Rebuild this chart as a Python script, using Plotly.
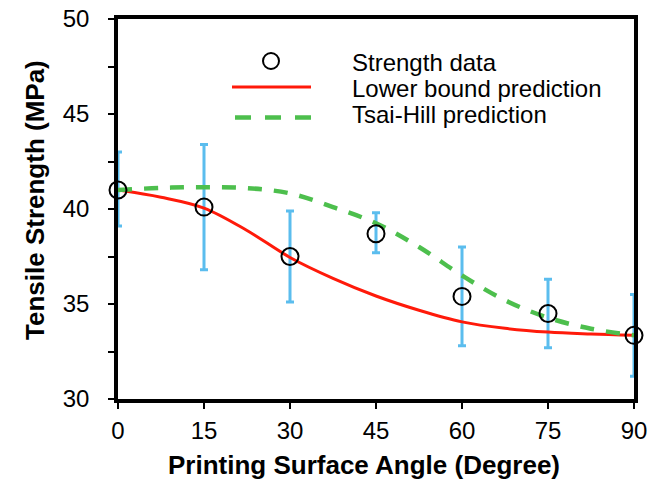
import plotly.graph_objects as go

# ---- data ----
angles = [0, 15, 30, 45, 60, 75, 90]
strength = [41.0, 40.1, 37.5, 38.7, 35.4, 34.5, 33.35]
err_plus = [2.0, 3.3, 2.4, 1.1, 2.6, 1.8, 2.15]
err_minus = [1.9, 3.3, 2.4, 1.0, 2.6, 1.8, 2.15]

curve_x = [0, 7.5, 15, 22.5, 30, 37.5, 45, 52.5, 60, 67.5, 75, 82.5, 90]
lower_bound = [41.0, 40.62, 40.05, 38.87, 37.45, 36.35, 35.42, 34.67, 34.06, 33.72, 33.52, 33.42, 33.35]
tsai_hill = [41.0, 41.11, 41.15, 41.1, 40.82, 40.1, 39.25, 38.0, 36.5, 35.2, 34.28, 33.7, 33.35]

y_ticks = [30, 35, 40, 45, 50]
y_minor = [32.5, 37.5, 42.5, 47.5]
legend_labels = ["Strength data", "Lower bound prediction", "Tsai-Hill prediction"]
x_title = "Printing Surface Angle (Degree)"
y_title = "Tensile Strength (MPa)"

RED = "#FF1A0A"
GREEN = "#4DBF4D"
BLUE = "#5BBDEE"
FONT = "Liberation Sans, Arial, sans-serif"

fig = go.Figure()

# error bars
fig.add_trace(go.Scatter(
    x=angles, y=strength, mode="markers",
    marker=dict(size=1, color="rgba(0,0,0,0)"),
    error_y=dict(type="data", symmetric=False, array=err_plus, arrayminus=err_minus,
                 color=BLUE, thickness=3, width=4),
    cliponaxis=False, showlegend=False, hoverinfo="skip"))

fig.add_trace(go.Scatter(
    x=curve_x, y=lower_bound, mode="lines", name=legend_labels[1],
    line=dict(color=RED, width=3, shape="spline"), showlegend=False, cliponaxis=False))

fig.add_trace(go.Scatter(
    x=curve_x, y=tsai_hill, mode="lines", name=legend_labels[2],
    line=dict(color=GREEN, width=4.5, dash="14px,12px", shape="spline"), showlegend=False, cliponaxis=False))

fig.add_trace(go.Scatter(
    x=angles, y=strength, mode="markers", name=legend_labels[0],
    marker=dict(symbol="circle-open", size=17, color="black", line=dict(width=2, color="black")),
    cliponaxis=False, showlegend=False))

# geometry helpers (paper coordinates)
L, R, T, B = 118, 634, 19, 399
W, H = R - L, B - T
def px(xp):
    return (xp - L) / W
def py(yp):
    return (B - yp) / H

# custom legend
fig.add_shape(type="circle", xref="paper", yref="paper",
              x0=px(263), x1=px(279), y0=py(69), y1=py(53),
              line=dict(color="black", width=2))
fig.add_shape(type="line", xref="paper", yref="paper",
              x0=px(232), x1=px(311), y0=py(87), y1=py(87),
              line=dict(color=RED, width=3))
fig.add_shape(type="line", xref="paper", yref="paper",
              x0=px(235), x1=px(312), y0=py(117.5), y1=py(117.5),
              line=dict(color=GREEN, width=4.5, dash="16px,14px"))
rows = [62, 88, 114]
for lab, yy in zip(legend_labels, rows):
    fig.add_annotation(xref="paper", yref="paper", x=px(350), y=py(yy),
                       text=lab, showarrow=False, xanchor="left", yanchor="middle",
                       font=dict(family=FONT, size=24, color="black"))

# axis titles
fig.add_annotation(xref="paper", yref="paper", x=px(364), y=py(465),
                   text="<b>" + x_title + "</b>", showarrow=False,
                   xanchor="center", yanchor="middle",
                   font=dict(family=FONT, size=26, color="black"))
fig.add_annotation(xref="paper", yref="paper", x=px(35), y=py(200),
                   text="<b>" + y_title + "</b>", showarrow=False, textangle=-90,
                   xanchor="center", yanchor="middle",
                   font=dict(family=FONT, size=26, color="black"))

fig.update_layout(
    width=665, height=483,
    margin=dict(l=L, r=665 - R, t=T, b=483 - B),
    paper_bgcolor="white", plot_bgcolor="rgba(0,0,0,0)",
    font=dict(family=FONT, size=24, color="black"),
    showlegend=False,
)
axis_common = dict(showline=True, linewidth=3.5, linecolor="black", mirror=True,
                   layer="below traces",
                   showgrid=False, zeroline=False, automargin=False,
                   ticks="outside", ticklen=6, tickwidth=2, tickcolor="black",
                   tickfont=dict(size=24))
fig.update_xaxes(
    range=[0, 90], tickmode="array", tickvals=angles, ticktext=[str(a) for a in angles],
    ticklabelstandoff=1, **axis_common,
)
fig.update_yaxes(
    range=[30, 50], tickmode="array", tickvals=y_ticks,
    minor=dict(tickvals=y_minor, ticks="outside", ticklen=6, tickwidth=2, tickcolor="black"),
    ticklabelstandoff=14, **axis_common,
)

fig.write_html("out.html")
